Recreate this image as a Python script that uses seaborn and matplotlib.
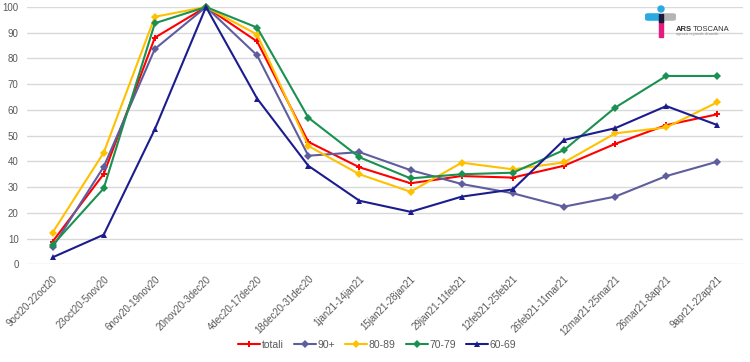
import matplotlib
matplotlib.use("Agg")
import matplotlib.pyplot as plt
import seaborn as sns
import pandas as pd
from matplotlib.lines import Line2D

categories = ["9oct20-22oct20", "23oct20-5nov20", "6nov20-19nov20", "20nov20-3dec20",
              "4dec20-17dec20", "18dec20-31dec20", "1jan21-14jan21", "15jan21-28jan21",
              "29jan21-11feb21", "12feb21-25feb21", "26feb21-11mar21", "12mar21-25mar21",
              "26mar21-8apr21", "9apr21-22apr21"]

totali = [8.8, 35.1, 88.1, 100, 86.6, 47.6, 37.7, 31.5, 34.3, 33.7, 38.3, 46.8, 54.1, 58.3]
age_90 = [6.6, 37.9, 83.7, 100, 81.2, 42.2, 43.6, 36.6, 31.2, 27.6, 22.4, 26.3, 34.3, 39.9]
age_80_89 = [12.3, 43.4, 96.2, 100, 89.3, 46.0, 35.0, 28.2, 39.5, 36.9, 39.6, 50.9, 53.2, 63.0]
age_70_79 = [7.5, 29.5, 93.7, 100, 92.0, 57.0, 41.6, 33.4, 35.0, 35.6, 44.4, 60.9, 73.2, 73.2]
age_60_69 = [2.7, 11.5, 52.5, 100, 64.4, 38.3, 24.7, 20.4, 26.3, 29.1, 48.3, 52.9, 61.5, 54.1]

series_names = ["totali", "90+", "80-89", "70-79", "60-69"]
series_values = [totali, age_90, age_80_89, age_70_79, age_60_69]
colors = ["#FF0000", "#5E5E9E", "#FFC000", "#1A9150", "#1C1C8E"]
markers = ["P", "D", "D", "D", "^"]

rows = []
for name, vals in zip(series_names, series_values):
    for i, v in enumerate(vals):
        rows.append({"periodo": i, "serie": name, "valore": v})
df = pd.DataFrame(rows)

sns.set_theme(style="white")
plt.rcParams['font.family'] = ['Liberation Sans', 'DejaVu Sans']

fig = plt.figure(figsize=(7.5, 3.62), dpi=100)
ax = fig.add_axes([27/750, 1-264.3/362, (743-27)/750, (264.3-7)/362])

sns.lineplot(data=df, x="periodo", y="valore", hue="serie", style="serie",
             hue_order=series_names, style_order=series_names,
             palette=colors, markers=markers, dashes=False, sort=False,
             linewidth=1.5, markersize=4, markeredgewidth=0, ax=ax, legend=False,
             clip_on=False, zorder=3)

ax.set_xlim(-0.5, 13.5)
ax.set_ylim(0, 100)
ax.set_yticks(range(0, 101, 10))
ax.set_xticks(range(len(categories)))
ax.set_xticklabels(categories, rotation=45, ha="right", va="top",
                   rotation_mode="anchor", fontsize=7, color="#595959")
ax.tick_params(axis="y", labelsize=7, labelcolor="#595959", length=0, pad=6)
ax.tick_params(axis="x", length=0, pad=7)
ax.set_xlabel("")
ax.set_ylabel("")
for s in ax.spines.values():
    s.set_visible(False)
ax.grid(axis="y", color="#D9D9D9", linewidth=1.0)
ax.set_axisbelow(True)

handles = [Line2D([0], [0], color=c, marker=m, markersize=4, markeredgewidth=0, linewidth=1.5)
           for c, m in zip(colors, markers)]
fig.legend(handles, series_names, loc="center", bbox_to_anchor=(0.503, 0.047), ncol=5,
           frameon=False, fontsize=7.5, handlelength=2.1, columnspacing=1.0,
           handletextpad=0.15, labelcolor="#595959")

# logo
T = fig.transFigure
def fx(x):
    return x / 750
def fy(y):
    return 1 - y / 362
fig.patches.append(matplotlib.patches.FancyBboxPatch((fx(648), fy(19)), fx(10), 4/362,
                   boxstyle="round,pad=0.003", transform=T, color="#29ABE2", zorder=5))
fig.patches.append(matplotlib.patches.FancyBboxPatch((fx(664), fy(19)), fx(9), 4/362,
                   boxstyle="round,pad=0.003", transform=T, color="#B5B5B5", zorder=5))
fig.patches.append(matplotlib.patches.Rectangle((fx(659), fy(37)), fx(3.5), 17/362,
                   transform=T, color="#E5197E", zorder=5))
fig.patches.append(matplotlib.patches.Rectangle((fx(659), fy(22)), fx(3.5), 8/362,
                   transform=T, color="#1A1A3A", zorder=6))
fig.patches.append(matplotlib.patches.Ellipse((fx(661), fy(9)), fx(6), 6/362,
                   transform=T, color="#29ABE2", zorder=5))
fig.text(fx(676), fy(31), "ARS", fontsize=5.5, fontweight="bold", color="#333333")
fig.text(fx(693), fy(31), "TOSCANA", fontsize=5.5, color="#333333")
fig.text(fx(676), fy(35), "agenzia regionale di sanità", fontsize=2.5, color="#888888")

fig.savefig("out.png", dpi=100)
